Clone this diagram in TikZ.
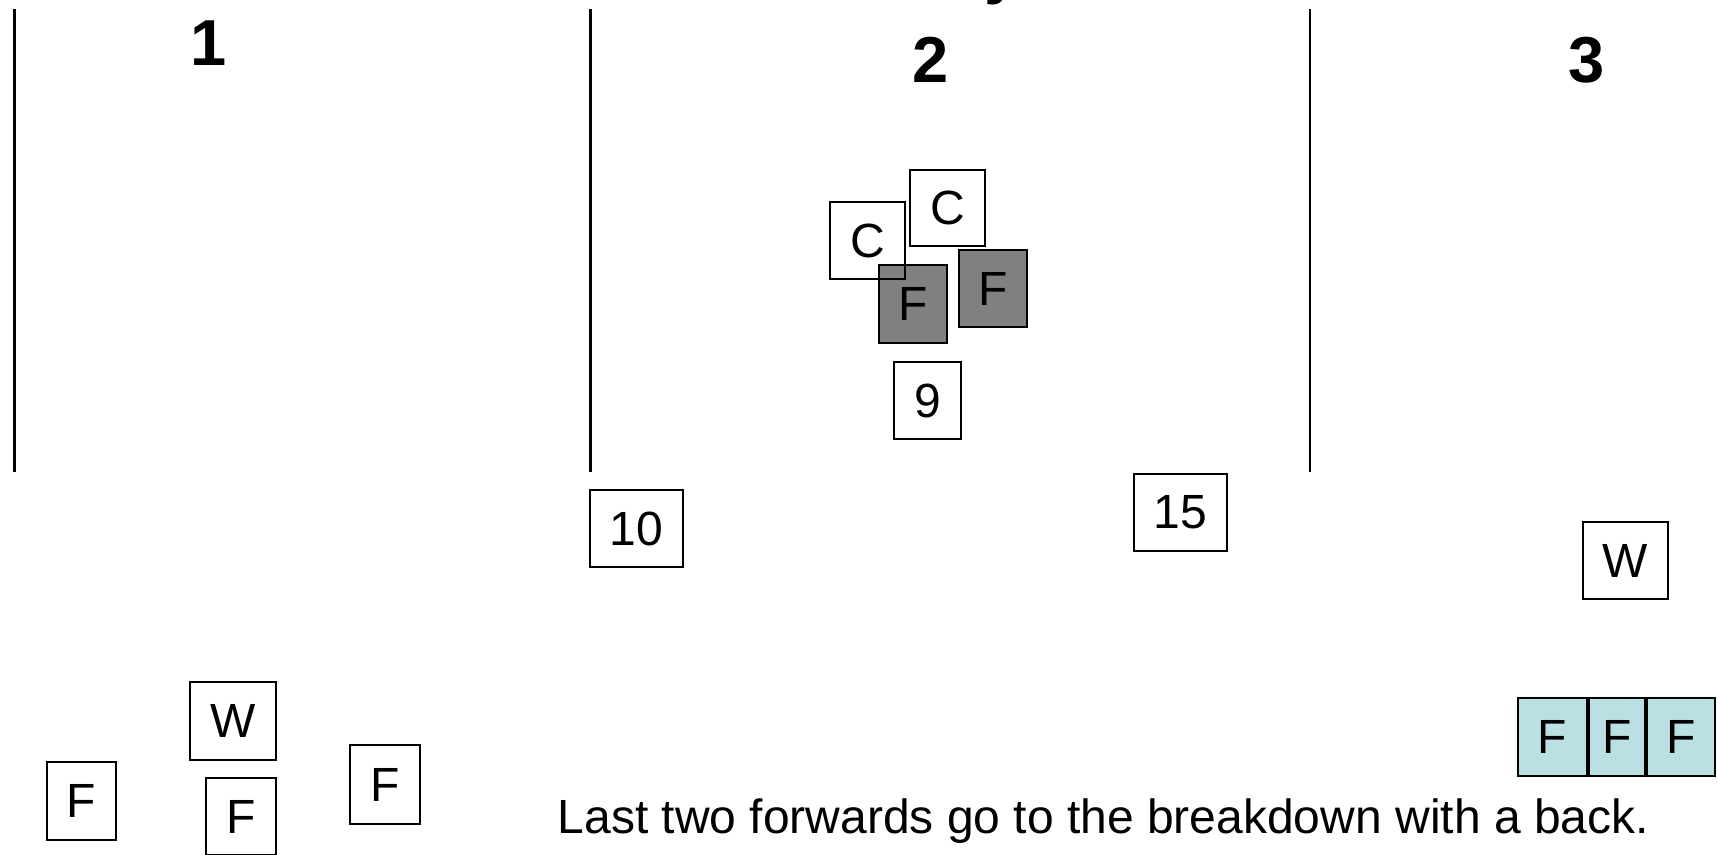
\documentclass[tikz,border=0pt]{standalone}
\usepackage{fontspec}
\setmainfont{Liberation Sans}
\definecolor{fgray}{RGB}{128,128,128}
\definecolor{fcyan}{RGB}{187,224,228}
\begin{document}
\begin{tikzpicture}[x=1pt,y=-1pt,
  pbox/.style={draw=black, line width=2.6pt, inner sep=0pt, font=\fontsize{48}{56}\selectfont, text=black},
  grayf/.style={pbox, fill=fgray},
  cyanf/.style={pbox, fill=fcyan},
  num/.style={font=\bfseries\fontsize{65}{78}\selectfont, inner sep=0pt, anchor=base},
  divline/.style={line width=2.8pt}]
\useasboundingbox (0,0) rectangle (1718,854);
\fill[white] (0,0) rectangle (1718,854);

% title fragment
\node[font=\bfseries\fontsize{65}{78}\selectfont, anchor=base west, inner sep=0pt] (ttl) at (984,-8.6) {y};

% column dividers
\coordinate (l1t) at (14.5,9);  \coordinate (l1b) at (14.5,472);
\coordinate (l2t) at (590.5,9); \coordinate (l2b) at (590.5,472);
\coordinate (l3t) at (1310,9);  \coordinate (l3b) at (1310,472);
\draw[divline] (l1t) -- (l1b);
\draw[divline] (l2t) -- (l2b);
\draw[divline] (l3t) -- (l3b);

% column numbers
\node[num] (n1) at (209,65) {1};
\node[num] (n2) at (931,82) {2};
\node[num] (n3) at (1587,82) {3};

% central group
\node[grayf, minimum width=68pt, minimum height=78pt] (fg1) at (913,304) {F};
\node[grayf, minimum width=68pt, minimum height=77pt] (fg2) at (993,288.5) {F};
\node[pbox, minimum width=75pt, minimum height=77pt] (c1) at (867.5,240.5) {C};
\node[pbox, minimum width=75pt, minimum height=76pt] (c2) at (947.5,208) {C};
\node[pbox, minimum width=67pt, minimum height=77pt] (b9) at (927.5,400.5) {9};

\node[pbox, minimum width=93pt, minimum height=77pt] (b10) at (636.5,528.5) {10};
\node[pbox, minimum width=93pt, minimum height=77pt] (b15) at (1180.5,512.5) {15};

% right side
\node[pbox, minimum width=85pt, minimum height=77pt] (w3) at (1625.5,560.5) {W};
\node[cyanf, minimum width=69pt, minimum height=78pt] (ff1) at (1552.5,737) {F};
\node[cyanf, minimum width=56pt, minimum height=78pt] (ff2) at (1617,737) {F};
\node[cyanf, minimum width=68pt, minimum height=78pt] (ff3) at (1681,737) {F};

% left bottom
\node[pbox, minimum width=69pt, minimum height=78pt] (f1) at (81.5,801) {F};
\node[pbox, minimum width=86pt, minimum height=78pt] (w1) at (233,721) {W};
\node[pbox, minimum width=70pt, minimum height=77pt] (f2) at (241,816.5) {F};
\node[pbox, minimum width=70pt, minimum height=79pt] (f3) at (385,784.5) {F};

% caption
\node[anchor=base west, inner sep=0pt, font=\fontsize{48}{56}\selectfont] (cap) at (557.5,833) {Last two forwards go to the breakdown with a back.};
\end{tikzpicture}
\end{document}
